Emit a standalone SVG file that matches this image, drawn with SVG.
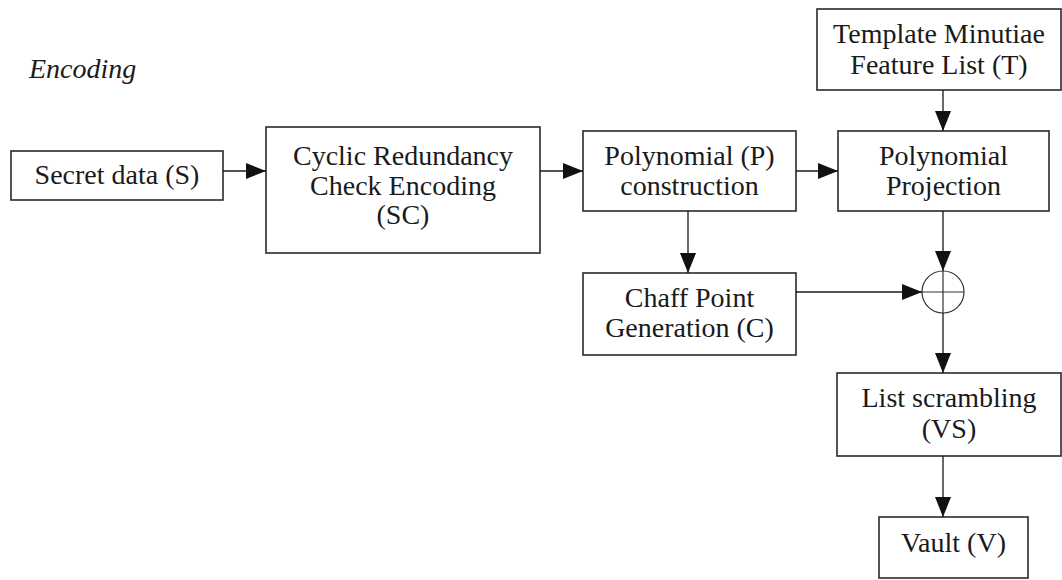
<svg xmlns="http://www.w3.org/2000/svg" width="1062" height="580" viewBox="0 0 1062 580">
  <style>
    .box { fill: #ffffff; stroke: #2a2a2a; stroke-width: 1.6; }
    .lbl { font-family: "Liberation Serif", "Times New Roman", serif; font-size: 28px; fill: #1a1a1a; text-anchor: middle; }
    .title { font-family: "Liberation Serif", "Times New Roman", serif; font-size: 28px; font-style: italic; fill: #1a1a1a; }
    .edge { fill: none; stroke: #1a1a1a; stroke-width: 1.3; }
    .sum { fill: none; stroke: #333333; stroke-width: 1.2; }
  </style>
  <defs>
    <marker id="arrow" markerUnits="userSpaceOnUse" markerWidth="20" markerHeight="16" refX="20" refY="8" orient="auto">
      <path d="M0,0 L20,8 L0,16 z" fill="#111111"/>
    </marker>
  </defs>
  <rect width="1062" height="580" fill="#ffffff"/>

  <text class="title" x="29" y="78">Encoding</text>

  <g id="secret">
    <rect class="box" x="11" y="151" width="212" height="49"/>
    <text class="lbl" x="117" y="184">Secret data (S)</text>
  </g>

  <g id="crc">
    <rect class="box" x="266" y="127" width="274" height="126"/>
    <text class="lbl" x="403" y="165">Cyclic Redundancy</text>
    <text class="lbl" x="403" y="195">Check Encoding</text>
    <text class="lbl" x="403" y="224">(SC)</text>
  </g>

  <g id="poly">
    <rect class="box" x="583" y="131" width="213" height="80"/>
    <text class="lbl" x="689.5" y="165">Polynomial (P)</text>
    <text class="lbl" x="689.5" y="195">construction</text>
  </g>

  <g id="template">
    <rect class="box" x="817" y="9" width="244" height="81"/>
    <text class="lbl" x="939" y="43">Template Minutiae</text>
    <text class="lbl" x="939" y="74">Feature List (T)</text>
  </g>

  <g id="projection">
    <rect class="box" x="838" y="131" width="211" height="80"/>
    <text class="lbl" x="943.5" y="165">Polynomial</text>
    <text class="lbl" x="943.5" y="195">Projection</text>
  </g>

  <g id="chaff">
    <rect class="box" x="583" y="273" width="213" height="82"/>
    <text class="lbl" x="689.5" y="307">Chaff Point</text>
    <text class="lbl" x="689.5" y="337">Generation (C)</text>
  </g>

  <g id="combine">
    <circle class="sum" cx="943" cy="292" r="21"/>
    <line class="sum" x1="922" y1="292" x2="964" y2="292"/>
    <line class="sum" x1="943" y1="271" x2="943" y2="313"/>
  </g>

  <g id="scramble">
    <rect class="box" x="837" y="373" width="224" height="83"/>
    <text class="lbl" x="949" y="407">List scrambling</text>
    <text class="lbl" x="949" y="438">(VS)</text>
  </g>

  <g id="vault">
    <rect class="box" x="879" y="517" width="149" height="61"/>
    <text class="lbl" x="953.5" y="552">Vault (V)</text>
  </g>

  <g id="connectors">
    <line class="edge" x1="223" y1="171" x2="266" y2="171" marker-end="url(#arrow)"/>
    <line class="edge" x1="540" y1="171" x2="583" y2="171" marker-end="url(#arrow)"/>
    <line class="edge" x1="796" y1="171" x2="838" y2="171" marker-end="url(#arrow)"/>
    <line class="edge" x1="943" y1="90" x2="943" y2="131" marker-end="url(#arrow)"/>
    <line class="edge" x1="688" y1="211" x2="688" y2="273" marker-end="url(#arrow)"/>
    <line class="edge" x1="943" y1="211" x2="943" y2="271" marker-end="url(#arrow)"/>
    <line class="edge" x1="796" y1="292" x2="922" y2="292" marker-end="url(#arrow)"/>
    <line class="edge" x1="943" y1="313" x2="943" y2="373" marker-end="url(#arrow)"/>
    <line class="edge" x1="943" y1="456" x2="943" y2="517" marker-end="url(#arrow)"/>
  </g>
</svg>
